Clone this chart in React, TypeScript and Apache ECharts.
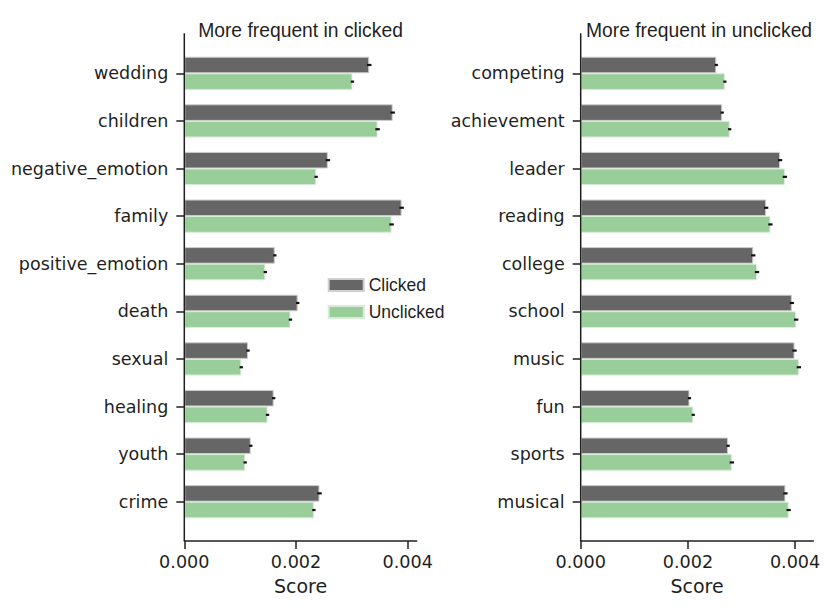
import React, { useEffect, useRef } from "react";
import * as echarts from "echarts";

const leftCats = ["wedding", "children", "negative_emotion", "family", "positive_emotion", "death", "sexual", "healing", "youth", "crime"];
const leftClicked = [0.00331, 0.00373, 0.00257, 0.00389, 0.00162, 0.00203, 0.00114, 0.0016, 0.00119, 0.00242];
const leftUnclicked = [0.00301, 0.00346, 0.00236, 0.00371, 0.00145, 0.0019, 0.00102, 0.00149, 0.00109, 0.00232];
const leftClickedCI = [0.00004, 0.00004, 0.00004, 0.00004, 0.00003, 0.00003, 0.00003, 0.00003, 0.00003, 0.00004];
const leftUnclickedCI = [0.00003, 0.00004, 0.00003, 0.00004, 0.00003, 0.00003, 0.00003, 0.00003, 0.00003, 0.00003];

const rightCats = ["competing", "achievement", "leader", "reading", "college", "school", "music", "fun", "sports", "musical"];
const rightClicked = [0.00253, 0.00264, 0.00372, 0.00346, 0.00322, 0.00394, 0.00399, 0.00203, 0.00275, 0.00382];
const rightUnclicked = [0.00269, 0.00278, 0.00381, 0.00354, 0.00329, 0.00402, 0.00407, 0.0021, 0.00282, 0.00388];
const rightClickedCI = [0.00003, 0.00003, 0.00004, 0.00004, 0.00004, 0.00004, 0.00004, 0.00003, 0.00003, 0.00004];
const rightUnclickedCI = [0.00003, 0.00003, 0.00004, 0.00004, 0.00004, 0.00004, 0.00004, 0.00003, 0.00004, 0.00004];

const xTicks = [0, 0.002, 0.004];
const titles = ["More frequent in clicked", "More frequent in unclicked"];
const seriesNames = ["Clicked", "Unclicked"];

const DARK = "#666666";
const GREEN = "#99cd99";
const INK = "#1f1f1f";
const TICK_FONT = "DejaVu Sans";
const SANS = "Liberation Sans";

export default function App() {
  const ref = useRef<HTMLDivElement>(null);
  useEffect(() => {
    document.body.style.margin = "0";
    const chart = echarts.init(ref.current!, null, { renderer: "svg" });

    const gridTop = 49.5;
    const gridHeight = 476;
    const panels = [
      { left: 184.3, width: 232.4, max: 0.00416, cats: leftCats, c: leftClicked, u: leftUnclicked, cci: leftClickedCI, uci: leftUnclickedCI },
      { left: 580.7, width: 232.6, max: 0.00434, cats: rightCats, c: rightClicked, u: rightUnclicked, cci: rightClickedCI, uci: rightUnclickedCI },
    ];

    const ciRender = (sign: number) => (params: any, api: any) => {
      const v = api.value(0);
      const c = api.value(1);
      const h = api.value(2);
      const lo = api.coord([v - h, c]);
      const hi = api.coord([v + h, c]);
      const band = api.size([0, 1])[1];
      const dy = (sign * band * 0.7) / 4;
      return {
        type: "line",
        shape: { x1: lo[0], y1: lo[1] + dy, x2: hi[0], y2: hi[1] + dy },
        style: { stroke: "#111111", lineWidth: 2.2 },
      };
    };

    const grids: any[] = [];
    const xAxes: any[] = [];
    const yAxes: any[] = [];
    const series: any[] = [];
    const graphics: any[] = [];

    panels.forEach((p, i) => {
      grids.push({ left: p.left, top: gridTop, width: p.width, height: gridHeight });
      xAxes.push({
        type: "value",
        gridIndex: i,
        min: 0,
        max: p.max,
        interval: 0.002,
        offset: 15.5,
        name: "Score",
        nameLocation: "middle",
        nameGap: 35,
        nameTextStyle: { fontFamily: TICK_FONT, fontSize: 19, color: INK },
        axisLine: { show: true, lineStyle: { color: INK, width: 1.5 } },
        axisTick: { show: true, length: 8, lineStyle: { color: INK, width: 1.5 }, customValues: xTicks },
        axisLabel: {
          fontFamily: TICK_FONT,
          fontSize: 17.6,
          color: INK,
          margin: 12,
          customValues: xTicks,
          formatter: (v: number) => v.toFixed(3),
        },
        splitLine: { show: false },
      });
      yAxes.push({
        type: "category",
        gridIndex: i,
        data: p.cats,
        inverse: true,
        axisLine: { show: false },
        axisTick: { show: true, length: 8, alignWithLabel: true, lineStyle: { color: INK, width: 1.5 } },
        axisLabel: { fontFamily: TICK_FONT, fontSize: 17.5, color: INK, margin: 16 },
        splitLine: { show: false },
      });
      const barCommon = {
        type: "bar",
        xAxisIndex: i,
        yAxisIndex: i,
        barWidth: 16.6,
        barGap: "0%",
      };
      series.push({
        ...barCommon,
        name: seriesNames[0],
        data: p.c,
        itemStyle: { color: DARK, borderColor: "#cfcfcf", borderWidth: 1 },
      });
      series.push({
        ...barCommon,
        name: seriesNames[1],
        data: p.u,
        itemStyle: { color: GREEN, borderColor: "#d6ecd6", borderWidth: 1 },
      });
      series.push({
        type: "custom",
        name: "ci-c-" + i,
        xAxisIndex: i,
        yAxisIndex: i,
        encode: { x: 0, y: 1 },
        renderItem: ciRender(-1),
        data: p.c.map((v, k) => [v, k, p.cci[k]]),
        z: 5,
      });
      series.push({
        type: "custom",
        name: "ci-u-" + i,
        xAxisIndex: i,
        yAxisIndex: i,
        encode: { x: 0, y: 1 },
        renderItem: ciRender(1),
        data: p.u.map((v, k) => [v, k, p.uci[k]]),
        z: 5,
      });
      graphics.push({
        type: "line",
        shape: { x1: p.left, y1: 33.3, x2: p.left, y2: 541 },
        style: { stroke: INK, lineWidth: 1.5 },
        z: 10,
      });
      graphics.push({
        type: "text",
        x: p.left + p.width / 2 + (i === 1 ? 2 : 0),
        y: 30,
        style: {
          text: titles[i],
          fontFamily: SANS,
          fontSize: 19.3,
          fill: INK,
          align: "center",
          verticalAlign: "middle",
        },
      });
    });

    chart.setOption({
      animation: false,
      backgroundColor: "#ffffff",
      grid: grids,
      xAxis: xAxes,
      yAxis: yAxes,
      series,
      graphic: graphics,
      legend: {
        data: seriesNames,
        orient: "vertical",
        left: 327.7,
        top: 276,
        padding: 0,
        icon: "rect",
        itemWidth: 35,
        itemHeight: 12,
        itemGap: 9,
        textStyle: { fontFamily: SANS, fontSize: 17.5, color: INK, lineHeight: 17 },
      },
    });
    return () => chart.dispose();
  }, []);
  return <div ref={ref} style={{ position: "fixed", left: 0, top: 0, width: 831, height: 608 }} />;
}
